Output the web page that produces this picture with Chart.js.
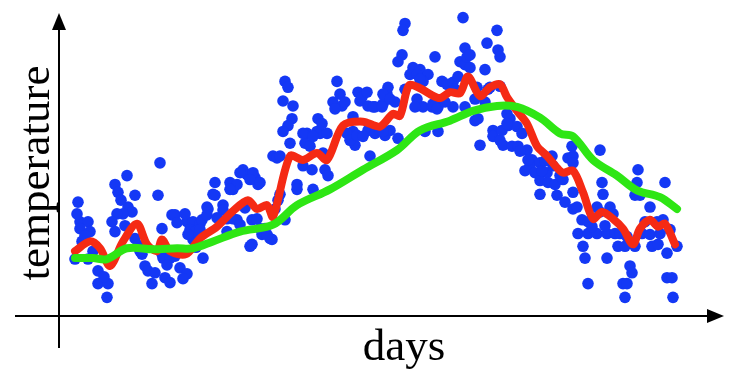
<!DOCTYPE html>
<html>
<head>
<meta charset="utf-8">
<script src="https://cdn.jsdelivr.net/npm/chart.js@4/dist/chart.umd.min.js"></script>
<style>
  body { margin: 0; background: #fff; }
  canvas { display: block; }
</style>
</head>
<body>
<canvas id="tempChart" width="748" height="376"></canvas>
<script>
// daily readings, [day, temperature] (arbitrary units)
const dotPoints = [
    [19,116],[21,96],[29,96],[21,89],[31,86],[23,76],[16,58],[29,58],[39,46],[39,33],[49,33],[48,19],
    [56,134],[59,126],[68,143],[76,123],[69,111],[73,106],[64,104],[58,104],[53,96],[56,86],[76,79],
    [83,63],[86,51],[89,46],[96,44],[93,33],[103,89],[103,63],[106,39],[101,156],[99,123],[113,103],
    [116,61],[144,59],[156,136],[171,136],[174,129],[156,123],[148,111],[164,113],[128,96],[134,96],
    [141,94],[131,84],[134,78],[104,59],[111,59],[121,49],[128,43],[124,38],[81,66],
    [214,163],[184,149],[188,144],[178,134],[196,141],[199,134],[154,124],[149,109],[116,103],[143,98],
    [148,103],[131,88],[136,86],[141,88],[129,83],[164,108],[168,99],[178,98],[193,98],[198,99],
    [206,89],[211,79],[203,83],[191,71],[111,34],[168,86],
    [226,239],[229,233],[224,219],[234,214],[233,201],[229,194],[224,188],[218,161],[221,163],[221,124],
    [219,118],[216,109],[213,78],[259,201],[258,188],[248,186],[261,186],[246,176],[251,173],[244,153],
    [253,149],[238,134],[238,129],[254,129],[266,149],[269,143],[278,239],[281,226],[274,218],[283,214],
    [276,211],[294,203],[294,188],[296,174],[299,228],[301,219],[309,214],[309,189],[311,163],[264,166],
    [244,186],[254,183],[268,186],[288,186],[291,179],[298,184],[304,183],[316,186],[321,189],[326,184],
    [331,189],[339,181],[303,223],[308,228],[286,218],[316,213],[324,216],[328,226],[181,146],[194,146],
    [191,139],[201,136],[171,129],[174,99],[181,93],[201,89],[208,83],[193,73],
    [346,298],[344,291],[343,266],[339,259],[376,264],[404,304],[406,273],[401,259],[406,256],[354,253],
    [361,251],[351,246],[369,246],[364,239],[383,239],[388,236],[394,238],[399,244],[329,233],[324,226],
    [331,221],[314,213],[323,213],[358,214],[364,213],[373,213],[379,213],[358,221],[394,213],[324,188],
    [366,188],[379,188],[416,199],
    [438,291],[428,278],[439,271],[441,264],[408,264],[426,251],[411,253],[358,246],[361,241],[431,233],
    [356,213],[374,216],[378,211],[406,213],[419,201],[421,174],[434,189],[434,183],[441,179],[448,206],
    [451,201],[449,194],[458,193],[444,174],[453,173],[459,173],[468,169],[461,168],[473,159],[471,153],
    [481,156],[466,148],[476,146],[488,146],[481,138],[489,136],[496,134],[481,124],[498,123],
    [411,266],[418,233],[429,231],[441,234],[416,221],[443,189],[448,196],[469,159],[483,148],[504,139],
    [506,116],[509,161],[513,173],[514,109],[493,163],[494,153],
    [514,163],[514,156],[541,169],[579,149],[543,136],[544,124],[514,126],[518,111],[578,136],[576,123],
    [581,123],[606,136],[591,111],[538,111],[541,106],[551,111],[554,104],[523,98],[529,96],[519,84],
    [529,84],[538,84],[548,84],[556,84],[561,84],[568,81],[583,84],[591,83],[598,96],[604,98],[611,88],
    [524,71],[559,71],[566,71],[576,71],[593,71],[599,73],[608,64],[618,71],[526,59],[548,59],[571,51],
    [573,44],[608,39],[613,39],[529,33],[564,33],[568,33],[566,19],[614,19],
    [18,104],[26,82],[34,66],[45,40],[62,118],[66,92],[79,72],[108,52],[118,95],[126,104],[137,70],
    [158,100],[186,110],[226,98],[231,176],[263,196],[336,218],[346,231],[386,218],[396,231],[426,218],
    [463,186],[486,158],[501,143],[533,91],[546,92],[586,96],[601,84]
];

// short-window average (red)
const redLine = [
    [16,66],[31,76],[41,69],[51,51],[64,76],[78,94],[88,73],[98,66],[103,78],[111,66],[127,63],[141,79],
    [158,91],[174,107],[189,118],[198,109],[208,113],[214,101],[231,163],[244,159],[258,166],[268,159],
    [284,194],[304,198],[321,193],[334,206],[341,204],[350,235],[361,232],[371,226],[381,222],[391,228],
    [401,227],[409,244],[421,224],[431,233],[441,236],[448,223],[458,209],[468,196],[478,173],[488,163],
    [498,151],[504,146],[514,148],[524,126],[534,99],[543,106],[554,99],[564,89],[574,73],[581,89],
    [591,98],[599,91],[606,94],[616,73]
];

// long-window average (green)
const greenLine = [
    [16,59],[34,59],[48,58],[68,69],[94,68],[118,69],[134,69],[154,76],[181,86],[214,93],[238,113],
    [271,129],[304,149],[338,169],[361,189],[391,199],[414,209],[438,214],[458,213],[481,202],[501,186],
    [514,183],[534,159],[558,143],[578,128],[601,121],[618,109]
];

const toXY = arr => arr.map(p => ({ x: p[0], y: p[1] }));

// axes with arrow heads + labels, drawn by hand
const arrowAxes = {
    id: 'arrowAxes',
    afterDraw(chart) {
        const ctx = chart.ctx;
        const area = chart.chartArea;
        const ox = area.left, oy = area.bottom;
        ctx.save();
        ctx.strokeStyle = '#000';
        ctx.fillStyle = '#000';
        ctx.lineWidth = 2;

        ctx.beginPath();
        ctx.moveTo(15, oy);
        ctx.lineTo(710, oy);
        ctx.moveTo(ox, 348);
        ctx.lineTo(ox, 28);
        ctx.stroke();

        ctx.beginPath();
        ctx.moveTo(724, oy);
        ctx.lineTo(707, oy - 7);
        ctx.lineTo(707, oy + 7);
        ctx.closePath();
        ctx.fill();

        ctx.beginPath();
        ctx.moveTo(ox, 13);
        ctx.lineTo(ox - 7, 30);
        ctx.lineTo(ox + 7, 30);
        ctx.closePath();
        ctx.fill();

        ctx.font = '45px "Liberation Serif", serif';
        ctx.textAlign = 'center';
        ctx.textBaseline = 'alphabetic';
        ctx.fillText('days', 404, 360);

        ctx.translate(49, 173);
        ctx.rotate(-Math.PI / 2);
        ctx.fillText('temperature', 0, 0);
        ctx.restore();
    }
};

const ctx = document.getElementById('tempChart').getContext('2d');
new Chart(ctx, {
    type: 'scatter',
    data: {
        datasets: [{
            data: toXY(greenLine),
            showLine: true,
            borderColor: '#2ee614',
            borderWidth: 8,
            tension: 0.35,
            pointRadius: 0,
            borderCapStyle: 'round',
            borderJoinStyle: 'round',
            order: 0
        }, {
            data: toXY(redLine),
            showLine: true,
            borderColor: '#f52a14',
            borderWidth: 8,
            tension: 0.3,
            pointRadius: 0,
            borderCapStyle: 'round',
            borderJoinStyle: 'round',
            order: 1
        }, {
            data: toXY(dotPoints),
            pointRadius: 5.8,
            pointBorderWidth: 0,
            pointBackgroundColor: '#1438f5',
            borderColor: '#1438f5',
            order: 2,
            clip: false
        }]
    },
    options: {
        responsive: false,
        animation: false,
        layout: { padding: { left: 59, right: 26, top: 0, bottom: 60 } },
        scales: {
            x: { type: 'linear', min: 0, max: 663, display: false },
            y: { type: 'linear', min: 0, max: 316, display: false }
        },
        plugins: {
            legend: { display: false },
            tooltip: { enabled: false }
        }
    },
    plugins: [arrowAxes]
});
</script>
</body>
</html>
